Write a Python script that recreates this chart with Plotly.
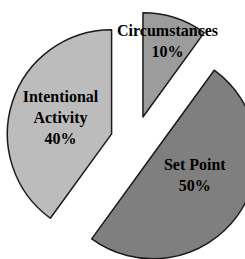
import plotly.graph_objects as go

# Data
labels = ["Circumstances", "Set Point", "Intentional Activity"]
display_text = ["Circumstances", "Set Point", "Intentional<br>Activity"]
values = [10, 50, 40]
pulls = [0.247, 0.213, 0.236]
colors = ["#9c9c9c", "#7f7f7f", "#bcbcbc"]

base_tpl = "<b>%{text}<br>%{percent:.0%}</b>"
templates = [base_tpl, base_tpl + "<br>&nbsp;", base_tpl]

fig = go.Figure(
    go.Pie(
        labels=labels,
        values=values,
        text=display_text,
        texttemplate=templates,
        textposition="inside",
        insidetextorientation="horizontal",
        textfont=dict(family="Liberation Serif", size=16, color="black"),
        sort=False,
        direction="clockwise",
        rotation=0,
        pull=pulls,
        marker=dict(colors=colors, line=dict(color="#1a1a1a", width=1.5)),
        hoverinfo="none",
        showlegend=False,
    )
)

fig.update_layout(
    width=270,
    height=283,
    margin=dict(l=5, r=5, t=0, b=0),
    paper_bgcolor="white",
    plot_bgcolor="white",
    uniformtext=dict(minsize=16, mode="show"),
)

fig.write_html(
    "out.html",
    config={"displayModeBar": False},
    post_script="document.body.style.margin='0';document.body.style.overflow='hidden';document.documentElement.style.overflow='hidden';",
)
